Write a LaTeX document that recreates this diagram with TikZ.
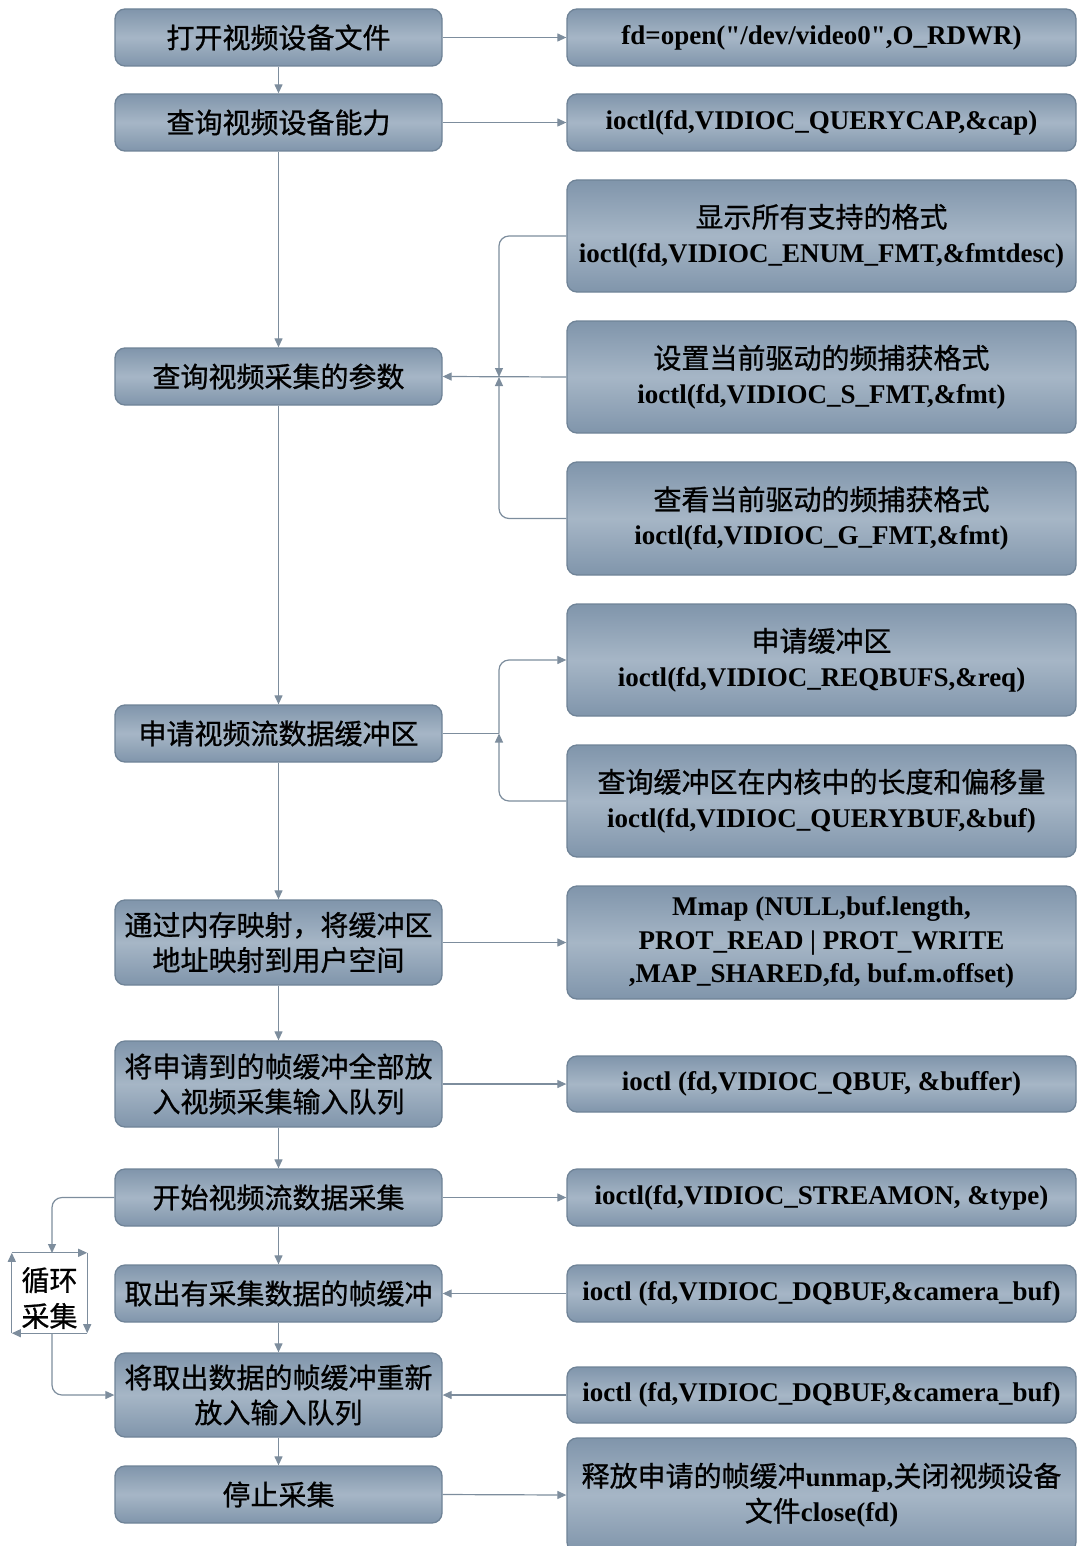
\documentclass[tikz,border=0pt]{standalone}
\usepackage{fontspec}
\setmainfont{Liberation Serif}[Ligatures=TeXOff]
\newfontfamily\cjkfont{Noto Sans CJK SC}[FakeBold=0.8]
\newcommand\zhtxt[1]{{\cjkfont\mdseries\fontsize{28}{35}\selectfont #1}}
\usetikzlibrary{arrows.meta}
\definecolor{boxdark}{HTML}{8095AB}
\definecolor{boxlight}{HTML}{A6B6C6}
\definecolor{boxborder}{HTML}{6F8397}
\definecolor{linecol}{HTML}{7D8D9D}
\tikzset{
  fbox/.style={draw=boxborder, line width=1.3pt, rounded corners=10pt,
    top color=boxdark, bottom color=boxdark, middle color=boxlight,
    align=center, inner sep=0pt, text=black,
    font=\fontsize{27}{35}\selectfont\bfseries},
  lbox/.style={fbox, minimum width=327pt},
  rbox/.style={fbox, minimum width=509pt},
  arr/.style={draw=linecol, line width=1.2pt, -{Triangle[length=9pt,width=8pt]}},
  ln/.style={draw=linecol, line width=1.2pt},
}
\begin{document}
\begin{tikzpicture}[x=1pt,y=-1pt]
\useasboundingbox (0,0) rectangle (1077,1546);
% left column
\node[lbox, minimum height=57pt] (L1) at (278.5,37.5) {\zhtxt{打开视频设备文件}};
\node[lbox, minimum height=57pt] (L2) at (278.5,122.5) {\zhtxt{查询视频设备能力}};
\node[lbox, minimum height=57pt] (L3) at (278.5,376.5) {\zhtxt{查询视频采集的参数}};
\node[lbox, minimum height=57pt] (L4) at (278.5,733.5) {\zhtxt{申请视频流数据缓冲区}};
\node[lbox, minimum height=85pt] (L5) at (278.5,942.5) {\zhtxt{通过内存映射，将缓冲区}\\\zhtxt{地址映射到用户空间}};
\node[lbox, minimum height=86pt] (L6) at (278.5,1084) {\zhtxt{将申请到的帧缓冲全部放}\\\zhtxt{入视频采集输入队列}};
\node[lbox, minimum height=57pt] (L7) at (278.5,1197.5) {\zhtxt{开始视频流数据采集}};
\node[lbox, minimum height=57pt] (L8) at (278.5,1293.5) {\zhtxt{取出有采集数据的帧缓冲}};
\node[lbox, minimum height=84pt] (L9) at (278.5,1395) {\zhtxt{将取出数据的帧缓冲重新}\\\zhtxt{放入输入队列}};
\node[lbox, minimum height=57pt] (L10) at (278.5,1494.5) {\zhtxt{停止采集}};
% right column
\node[rbox, minimum height=57pt] (R1) at (821.5,37.5) {fd=open("/dev/video0",O\_RDWR)};
\node[rbox, minimum height=57pt] (R2) at (821.5,122.5) {ioctl(fd,VIDIOC\_QUERYCAP,\&cap)};
\node[rbox, minimum height=112pt] (R3) at (821.5,236) {\zhtxt{显示所有支持的格式}\\ioctl(fd,VIDIOC\_ENUM\_FMT,\&fmtdesc)};
\node[rbox, minimum height=112pt] (R4) at (821.5,377) {\zhtxt{设置当前驱动的频捕获格式}\\ioctl(fd,VIDIOC\_S\_FMT,\&fmt)};
\node[rbox, minimum height=113pt] (R5) at (821.5,518.5) {\zhtxt{查看当前驱动的频捕获格式}\\ioctl(fd,VIDIOC\_G\_FMT,\&fmt)};
\node[rbox, minimum height=112pt] (R6) at (821.5,660) {\zhtxt{申请缓冲区}\\ioctl(fd,VIDIOC\_REQBUFS,\&req)};
\node[rbox, minimum height=112pt] (R7) at (821.5,801) {\zhtxt{查询缓冲区在内核中的长度和偏移量}\\ioctl(fd,VIDIOC\_QUERYBUF,\&buf)};
\node[rbox, minimum height=113pt, font=\fontsize{27}{33.5}\selectfont\bfseries] (R8) at (821.5,942.5) {Mmap (NULL,buf.length,\\PROT\_READ | PROT\_WRITE\\,MAP\_SHARED,fd, buf.m.offset)};
\node[rbox, minimum height=56pt] (R9) at (821.5,1084) {ioctl (fd,VIDIOC\_QBUF, \&buffer)};
\node[rbox, minimum height=57pt] (R10) at (821.5,1197.5) {ioctl(fd,VIDIOC\_STREAMON, \&type)};
\node[rbox, minimum height=57pt] (R11) at (821.5,1293.5) {ioctl (fd,VIDIOC\_DQBUF,\&camera\_buf)};
\node[rbox, minimum height=56pt] (R12) at (821.5,1395) {ioctl (fd,VIDIOC\_DQBUF,\&camera\_buf)};
\node[rbox, minimum height=114pt] (R13) at (821.5,1495) {\zhtxt{释放申请的帧缓冲}unmap,\zhtxt{关闭视频设备}\\\zhtxt{文件}close(fd)};
% loop box
\node[minimum width=75pt, minimum height=80pt, inner sep=0pt] (LP) at (49.5,1293) {};
\node[align=center, inner sep=0pt, font=\fontsize{28}{36}\selectfont] (LPT) at (49.5,1298) {\zhtxt{循环}\\\zhtxt{采集}};
\draw[arr] (LP.north west) -- (LP.north east);
\draw[arr] (LP.north east) -- (LP.south east);
\draw[arr] (LP.south east) -- (LP.south west);
\draw[arr] (LP.south west) -- (LP.north west);
\coordinate (LPt) at (52,1253);
\coordinate (LPb) at (52,1333);
\draw[arr, rounded corners=10pt] (L7.west) -| (LPt);
\draw[arr, rounded corners=10pt] (LPb) |- (L9.west);
% vertical flow
\foreach \a/\b in {L1/L2,L2/L3,L3/L4,L4/L5,L5/L6,L6/L7,L7/L8,L8/L9,L9/L10}
  \draw[arr] (\a.south) -- (\b.north);
% horizontal
\foreach \a/\b in {L1/R1,L2/R2,L5/R8,L6/R9,L7/R10,L10/R13}
  \draw[arr] (\a.east) -- (\b.west);
\foreach \a/\b in {R4/L3,R11/L8,R12/L9}
  \draw[arr] (\a.west) -- (\b.east);
% bus for format query
\coordinate (J3) at (499,377);
\draw[arr, rounded corners=10pt] (R3.west) -| (J3);
\draw[arr, rounded corners=10pt] (R5.west) -| (J3);
% bus for buffers
\coordinate (J4) at (499,733.5);
\draw[ln] (L4.east) -- (J4);
\draw[arr, rounded corners=10pt] (J4) |- (R6.west);
\draw[arr, rounded corners=10pt] (R7.west) -| (J4);
\end{tikzpicture}
\end{document}
